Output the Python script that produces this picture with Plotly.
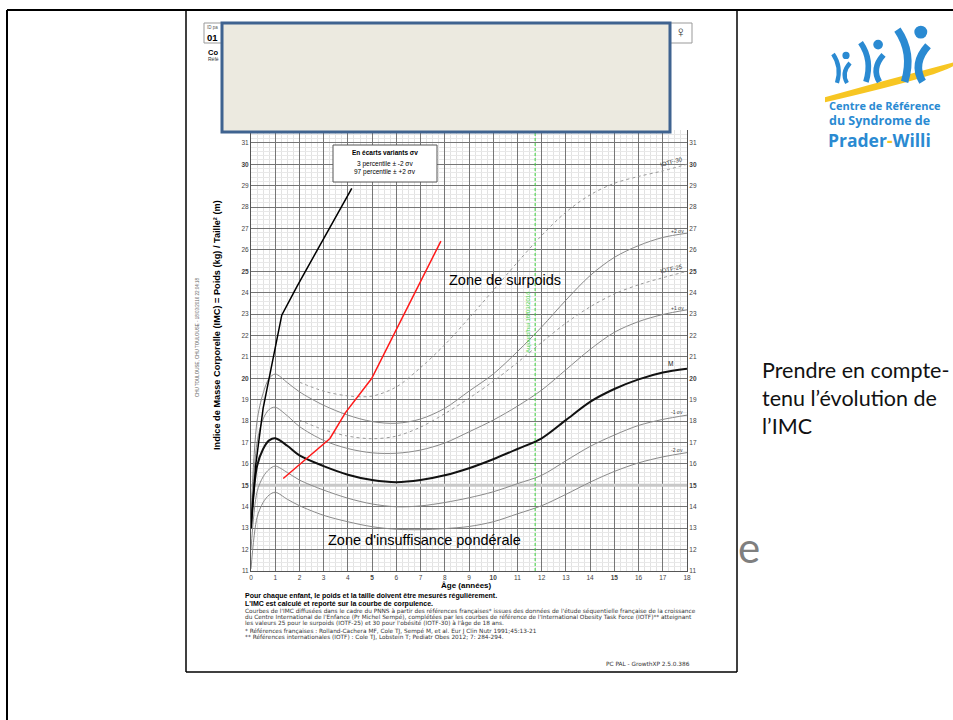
import plotly.graph_objects as go

# ---------------- data ----------------
REF_AGES = [0, 0.25, 0.5, 0.75, 1, 1.5, 2, 3, 4, 5, 6, 7, 8, 9, 10, 11, 12, 13, 14, 15, 16, 17, 18]
REF_M = [13.0, 15.9, 16.7, 17.1, 17.2, 16.85, 16.4, 15.9, 15.5, 15.25, 15.15, 15.25, 15.47, 15.8, 16.22, 16.7, 17.2, 18.05, 18.9, 19.5, 19.95, 20.27, 20.45]
REF_P1 = [13.3, 17.0, 18.1, 18.55, 18.65, 18.25, 17.75, 17.1, 16.72, 16.52, 16.5, 16.65, 16.98, 17.5, 18.05, 18.7, 19.45, 20.4, 21.35, 22.15, 22.65, 22.98, 23.2]
REF_P2 = [13.6, 18.0, 19.3, 20.0, 20.2, 19.8, 19.37, 18.74, 18.28, 17.98, 17.9, 18.1, 18.6, 19.4, 20.2, 21.25, 22.4, 23.65, 24.8, 25.65, 26.2, 26.58, 26.78]
REF_M1 = [12.0, 14.7, 15.4, 15.75, 15.9, 15.6, 15.25, 14.78, 14.4, 14.13, 14.0, 14.04, 14.2, 14.42, 14.7, 15.08, 15.47, 16.15, 16.82, 17.35, 17.8, 18.08, 18.28]
REF_M2 = [11.1, 13.5, 14.2, 14.55, 14.68, 14.35, 14.05, 13.6, 13.3, 13.07, 12.95, 12.93, 12.98, 13.08, 13.3, 13.67, 14.05, 14.58, 15.15, 15.65, 16.05, 16.33, 16.53]

IOTF_AGES = [2, 3, 4, 5, 6, 7, 8, 9, 10, 11, 12, 13, 14, 15, 16, 17, 18]
IOTF_25 = [18.05, 17.6, 17.3, 17.18, 17.3, 17.72, 18.35, 19.07, 19.86, 20.74, 21.68, 22.58, 23.34, 23.94, 24.37, 24.7, 25.0]
IOTF_30 = [19.82, 19.4, 19.18, 19.17, 19.6, 20.5, 21.57, 22.81, 24.11, 25.42, 26.67, 27.76, 28.57, 29.11, 29.43, 29.69, 30.0]

BLACK_AGES = [0, 0.2, 0.5, 1.0, 1.27, 1.9, 4.16]
BLACK_BMI = [13.0, 16.0, 18.6, 21.5, 22.95, 24.3, 28.87]
RED_AGES = [1.33, 3.26, 3.9, 4.98, 7.84]
RED_BMI = [15.32, 17.19, 18.4, 19.99, 26.41]

TODAY_AGE = 11.73
X_TICKS = list(range(0, 19))
Y_TICKS = list(range(11, 32))
BOLD_X = [5, 10, 15]
BOLD_Y = [15, 20, 25, 30]

# ---------------- geometry helpers (pixels -> paper) ----------------
W, H = 953, 720
L, R, T, B = 251, 266, 130, 149
PW, PH = W - L - R, H - T - B


def X(px):
    return (px - L) / PW


def Y(py):
    return (H - B - py) / PH


FONT = "Liberation Sans, Arial, sans-serif"
GRAY = "#8a8a8a"

fig = go.Figure()

ref_style = dict(mode="lines", line_shape="spline", hoverinfo="skip", showlegend=False)
for vals in (REF_P2, REF_P1, REF_M1, REF_M2):
    fig.add_trace(go.Scatter(x=REF_AGES, y=vals, line=dict(color=GRAY, width=1, smoothing=0.9), **ref_style))
fig.add_trace(go.Scatter(x=REF_AGES, y=REF_M, line=dict(color="#111111", width=2, smoothing=0.9), **ref_style))
for vals in (IOTF_25, IOTF_30):
    fig.add_trace(go.Scatter(x=IOTF_AGES, y=vals, line=dict(color="#9a9a9a", width=1, dash="3px,3px", smoothing=0.9), **ref_style))

fig.add_trace(go.Scatter(x=BLACK_AGES, y=BLACK_BMI, mode="lines", line=dict(color="#000000", width=1.5),
                         hoverinfo="skip", showlegend=False))
fig.add_trace(go.Scatter(x=RED_AGES, y=RED_BMI, mode="lines", line=dict(color="#ff1a1a", width=1.5),
                         hoverinfo="skip", showlegend=False))
# invisible trace to show right axis
fig.add_trace(go.Scatter(x=[0], y=[11], yaxis="y2", mode="markers", opacity=0, hoverinfo="skip", showlegend=False))

xt = ["<b>%d</b>" % v if v in BOLD_X else str(v) for v in X_TICKS]
yt = ["<b>%d</b>" % v if v in BOLD_Y else str(v) for v in Y_TICKS]

fig.update_layout(
    width=W, height=H, margin=dict(l=L, r=R, t=T, b=B, pad=0),
    paper_bgcolor="white", plot_bgcolor="white",
    font=dict(family=FONT, color="#444"),
    xaxis=dict(range=[0, 18], tickvals=X_TICKS, ticktext=xt, showgrid=True, gridcolor="#767676", gridwidth=1,
               zeroline=False, ticks="", tickfont=dict(size=6.5, color="#444"), showline=True, linecolor="#555",
               minor=dict(dtick=0.25, showgrid=True, gridcolor="#e2e2e2", gridwidth=1)),
    yaxis=dict(range=[11, 31.6], tickvals=Y_TICKS, ticktext=yt, showgrid=True, gridcolor="#767676", gridwidth=1,
               zeroline=False, ticks="", tickfont=dict(size=6.5, color="#444"), showline=True, linecolor="#555",
               minor=dict(dtick=0.2, showgrid=True, gridcolor="#e8e8e8", gridwidth=1)),
    yaxis2=dict(range=[11, 31.6], tickvals=Y_TICKS, ticktext=yt, overlaying="y", side="right", showgrid=False,
                zeroline=False, ticks="", tickfont=dict(size=6.5, color="#444"), showline=True, linecolor="#555"),
)

shapes = []
# highlighted line at 15
shapes.append(dict(type="line", xref="x", yref="y", x0=0, x1=18, y0=15, y1=15,
                   line=dict(color="#c8c8c8", width=3), layer="between"))
# today line
shapes.append(dict(type="line", xref="x", yref="y", x0=TODAY_AGE, x1=TODAY_AGE, y0=11, y1=31.6,
                   line=dict(color="#3fd43f", width=1, dash="3px,2px")))
# legend box
shapes.append(dict(type="rect", xref="paper", yref="paper", x0=X(333), x1=X(437), y0=Y(182), y1=Y(145),
                   fillcolor="white", line=dict(color="#555", width=1), layer="above"))
# slide borders
shapes.append(dict(type="line", xref="paper", yref="paper", x0=X(7), x1=X(953), y0=Y(10), y1=Y(10),
                   line=dict(color="black", width=2), layer="above"))
shapes.append(dict(type="line", xref="paper", yref="paper", x0=X(7), x1=X(7), y0=Y(10), y1=Y(720),
                   line=dict(color="black", width=2)))
# document frame
shapes.append(dict(type="line", xref="paper", yref="paper", x0=X(186), x1=X(186), y0=Y(10), y1=Y(672),
                   line=dict(color="black", width=1.5)))
shapes.append(dict(type="line", xref="paper", yref="paper", x0=X(186), x1=X(737), y0=Y(672), y1=Y(672),
                   line=dict(color="black", width=1.5)))
shapes.append(dict(type="line", xref="paper", yref="paper", x0=X(737), x1=X(737), y0=Y(10), y1=Y(672),
                   line=dict(color="black", width=1.5)))
# header boxes
shapes.append(dict(type="rect", xref="paper", yref="paper", x0=X(204), x1=X(224), y0=Y(43), y1=Y(23),
                   line=dict(color="#999", width=1)))
shapes.append(dict(type="rect", xref="paper", yref="paper", x0=X(668), x1=X(692), y0=Y(43), y1=Y(23),
                   line=dict(color="#999", width=1)))
# overlay box
shapes.append(dict(type="rect", xref="paper", yref="paper", x0=X(222), x1=X(670), y0=Y(132), y1=Y(23),
                   fillcolor="#ECEAE0", line=dict(color="#3F6390", width=3), layer="above"))


# logo: yellow swoosh
def P(px, py):
    return "%.4f %.4f" % (X(px), Y(py))


shapes.append(dict(type="path", xref="paper", yref="paper",
                   path="M %s Q %s %s Q %s %s Z" % (P(826, 98), P(890, 80), P(955, 63),
                                                   P(955, 71), P(826, 101)),
                   fillcolor="#F7C623", line=dict(color="#F7C623", width=2)))
BLUE = "#2A8AD2"
for (cx, top, s) in [(840, 52, 1.0), (870, 40, 1.35), (910, 26, 1.8)]:
    shapes.append(dict(type="circle", xref="paper", yref="paper",
                       x0=X(cx + 6 * s - 3.6 * s), x1=X(cx + 6 * s + 3.6 * s),
                       y0=Y(top + 3.4 * s + 3.6 * s), y1=Y(top + 3.4 * s - 3.6 * s),
                       fillcolor=BLUE, line=dict(color=BLUE, width=0)))
    shapes.append(dict(type="path", xref="paper", yref="paper",
                       path="M %s Q %s %s" % (P(cx - 7 * s, top + 2 * s), P(cx + 2 * s, top + 15 * s),
                                              P(cx - 3 * s, top + 31 * s)),
                       line=dict(color=BLUE, width=4.2 * s)))
    shapes.append(dict(type="path", xref="paper", yref="paper",
                       path="M %s Q %s %s" % (P(cx + 10 * s, top + 11 * s), P(cx + 1 * s, top + 21 * s),
                                              P(cx + 7 * s, top + 31 * s)),
                       line=dict(color=BLUE, width=4.2 * s)))

fig.update_layout(shapes=shapes)

ann = []


def A(text, px, py, size, color="#000", xanchor="center", yanchor="middle", angle=0, family=FONT, **kw):
    ann.append(dict(text=text, x=X(px), y=Y(py), xref="paper", yref="paper", showarrow=False,
                    xanchor=xanchor, yanchor=yanchor, textangle=angle,
                    font=dict(size=size, color=color, family=family), **kw))


def D(text, ax, ay, size, color="#444", angle=0, xanchor="center"):
    ann.append(dict(text=text, x=ax, y=ay, xref="x", yref="y", showarrow=False, xanchor=xanchor,
                    yanchor="middle", textangle=angle, font=dict(size=size, color=color, family=FONT)))


# curve labels
D("IOTF-30", 17.35, 30.1, 6, angle=-15)
D("+2 σv", 17.6, 26.9, 5)
D("IOTF-25", 17.35, 25.1, 6, angle=-12)
D("+1 σv", 17.6, 23.3, 5)
D("M", 17.3, 20.7, 6.5, color="#222")
D("-1 σv", 17.6, 18.45, 5)
D("-2 σv", 17.6, 16.65, 5)

# legend text
A("<b>En écarts variants σv</b>", 385, 152, 6.5)
A("3 percentile ± -2 σv", 385, 164, 6.5)
A("97 percentile ± +2 σv", 385, 172, 6.5)

# zones
A("Zone de surpoids", 447, 280, 14.5, xanchor="left")
A("Zone d'insuffisance pondérale", 326, 540, 14.5, xanchor="left")

# today label
A("Aujourd'hui 18/03/2016", 528, 322, 6, color="#3fd43f", angle=-90)

# axis titles
A("<b>Indice de Masse Corporelle (IMC) = Poids (kg) / Taille² (m)</b>", 217, 325, 9.2, angle=-90)
A("CHU TOULOUSE, CHU TOULOUSE - 18/03/2016 22:04:18", 197, 338, 4.5, color="#666", angle=-90)
A("<b>Âge (années)</b>", 466, 585, 8)

# footer
SMALL = 5.8
SFONT = "DejaVu Sans, Verdana, sans-serif"
A("<b>Pour chaque enfant, le poids et la taille doivent être mesurés régulièrement.</b>", 243, 595.5, 7.0, xanchor="left")
A("<b>L'IMC est calculé et reporté sur la courbe de corpulence.</b>", 243, 603.5, 7.0, xanchor="left")
A("Courbes de l'IMC diffusées dans le cadre du PNNS à partir des références françaises* issues des données de l'étude séquentielle française de la croissance",
  243, 611, SMALL, color="#333", xanchor="left", family=SFONT)
A("du Centre International de l'Enfance (Pr Michel Sempé), complétées par les courbes de référence de l'International Obesity Task Force (IOTF)** atteignant",
  243, 617, SMALL, color="#333", xanchor="left", family=SFONT)
A("les valeurs 25 pour le surpoids (IOTF-25) et 30 pour l'obésité (IOTF-30) à l'âge de 18 ans.",
  243, 623, SMALL, color="#333", xanchor="left", family=SFONT)
A("* Références françaises : Rolland-Cachera MF, Cole TJ, Sempé M, et al. Eur J Clin Nutr 1991;45:13-21",
  243, 631, SMALL, color="#333", xanchor="left", family=SFONT)
A("** Références internationales (IOTF) : Cole TJ, Lobstein T; Pediatr Obes 2012; 7: 284-294.",
  243, 637, SMALL, color="#333", xanchor="left", family=SFONT)
A("PC PAL - GrowthXP 2.5.0.386", 692, 664, SMALL, color="#333", xanchor="right", family=SFONT)

# header fragments
A("ID pa", 205, 27, 4.5, color="#555", xanchor="left")
A("<b>01</b>", 205, 37, 9.5, xanchor="left")
A("<b>Co</b>", 206, 52, 7.5, xanchor="left")
A("Réfé", 206, 59, 5, color="#333", xanchor="left")
A("♀", 680, 32, 15, color="#333")

# right side text
A("Prendre en compte-<br>tenu l’évolution de<br>l’IMC", 760, 398, 21.5, color="#111", xanchor="left",
  family="Lato, Open Sans, sans-serif", align="left")
A("e", 736, 547, 42, color="#7f7f7f", xanchor="left", family="Lato, Open Sans, sans-serif")

# logo text
LFONT = "Open Sans, Lato, sans-serif"
A("<b>Centre de Référence</b>", 827, 105, 11, color=BLUE, xanchor="left", family=LFONT)
A("<b>du Syndrome de</b>", 827, 120.5, 12.5, color=BLUE, xanchor="left", family=LFONT)
A("<b>Prader<span style='color:#F7C623'>-</span>Willi</b>", 826, 140, 17.5, color=BLUE, xanchor="left",
  family=LFONT)

fig.update_layout(annotations=ann)
fig.write_html("out.html", config={"displayModeBar": False},
               post_script="document.body.style.margin='0';")
